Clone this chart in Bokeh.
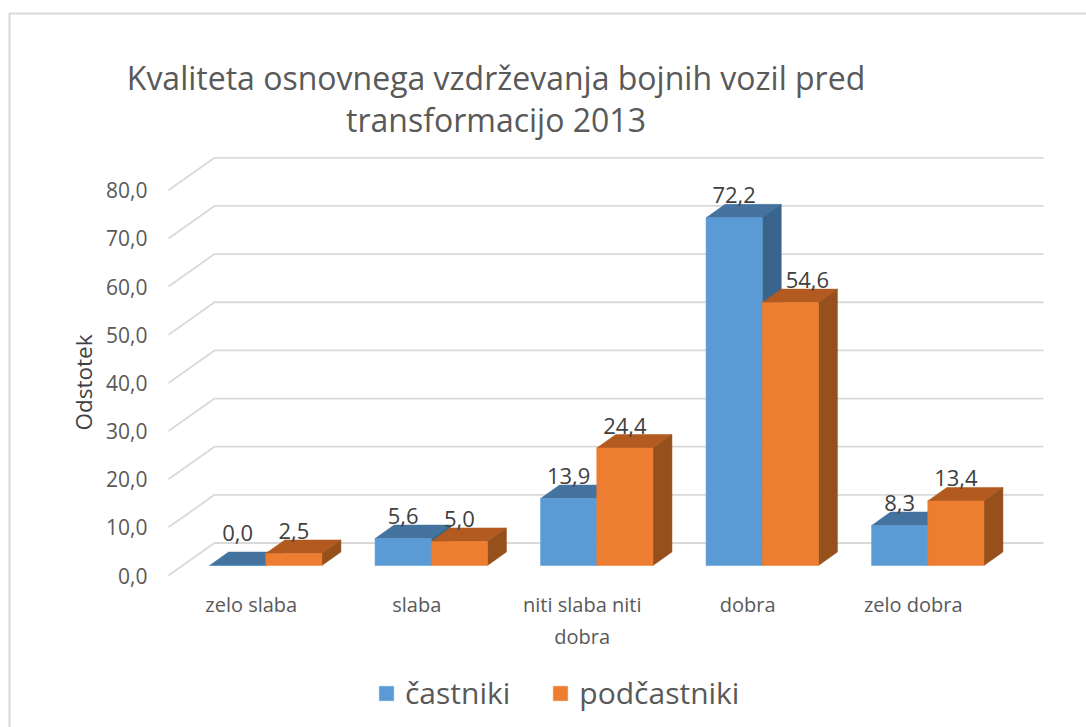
from bokeh.plotting import figure
from bokeh.models import Range1d, FixedTicker, Label, Legend, LegendItem, BoxAnnotation
from bokeh.core.properties import value
from bokeh.embed import file_html
from bokeh.resources import INLINE

# ---- data ----
title_lines = ["Kvaliteta osnovnega vzdrževanja bojnih vozil pred", "transformacijo 2013"]
categories = ["zelo slaba", "slaba", "niti slaba niti\ndobra", "dobra", "zelo dobra"]
castniki = [0.0, 5.6, 13.9, 72.2, 8.3]
podcastniki = [2.5, 5.0, 24.4, 54.6, 13.4]
y_ticks = [0, 10, 20, 30, 40, 50, 60, 70, 80]
y_labels = ["0,0", "10,0", "20,0", "30,0", "40,0", "50,0", "60,0", "70,0", "80,0"]
y_title = "Odstotek"
series_names = ["častniki", "podčastniki"]

# ---- layout (page pixels) ----
FONT = "Open Sans"
W, H = 1086, 727
FL, FR, FB = 168, 1043, 577               # floor left, wall right, axis line
Y0 = 575                                  # page y of value 0 on the front plane
PX_X = 165.5                              # px per category
PX_Y = 4.815                              # px per value unit


def px(x):
    return 0.5 + (x - FL) / PX_X


def py(y):
    return (Y0 - y) / PX_Y


def dx(d):
    return d / PX_X


def dy(d):
    return d / PX_Y


p = figure(width=W, height=H, output_backend="svg", toolbar_location=None,
           x_range=Range1d(px(0), px(W)), y_range=Range1d(py(H), py(0)),
           min_border=0, outline_line_color=None, background_fill_color="white",
           border_fill_color="white")
p.grid.visible = False

# axes
ya = p.yaxis[0]
ya.fixed_location = px(FL)
ya.ticker = FixedTicker(ticks=y_ticks)
ya.major_label_overrides = {t: l for t, l in zip(y_ticks, y_labels)}
ya.axis_line_color = None
ya.major_tick_line_color = None
ya.minor_tick_line_color = None
ya.major_label_standoff = 15
ya.major_label_text_font = FONT
ya.major_label_text_font_size = "21px"
ya.major_label_text_color = "#595959"

xa = p.xaxis[0]
xa.fixed_location = py(FB)
pos = list(range(1, len(categories) + 1))
xa.ticker = FixedTicker(ticks=pos)
xa.major_label_overrides = {t: c for t, c in zip(pos, categories)}
xa.axis_line_color = None
xa.major_tick_line_color = None
xa.minor_tick_line_color = None
xa.major_label_standoff = 7
xa.major_label_text_font = FONT
xa.major_label_text_font_size = "20px"
xa.major_label_text_color = "#595959"
xa.major_label_orientation = "horizontal"

# gridlines: slanted floor-side segment + back wall
WALL_X, WALL_Y = dx(46), dy(32.5)
x_start, x_end = 0.5, px(FR)
xs = [[x_start, x_start + WALL_X, x_end] for _ in y_ticks]
ys = [[t, t + WALL_Y, t + WALL_Y] for t in y_ticks]
p.multi_line(xs, ys, line_color="#d9d9d9", line_width=1.8)

# bars
LIFT_X, LIFT_Y = dx(14.5), dy(10)
BAR_W = 56.2 / PX_X
DEPTH_X, DEPTH_Y = dx(19), dy(13.5)
LABEL_UP = dy(9)

styles = [
    (castniki, -BAR_W, "#5b9bd5", "#44739f", "#39648c"),
    (podcastniki, 0.0, "#ed7d31", "#b25a20", "#96501b"),
]
legend_items = []
lab_x, lab_y, lab_t = [], [], []
for idx, (vals, off, front, top, side) in enumerate(styles):
    tx, ty, sx, sy, l, r, t, b = [], [], [], [], [], [], [], []
    for c, v in zip(pos, vals):
        x0 = c + LIFT_X + off
        x1 = x0 + BAR_W
        y0 = LIFT_Y
        y1 = v + LIFT_Y
        tx.append([x0, x1, x1 + DEPTH_X, x0 + DEPTH_X])
        ty.append([y1, y1, y1 + DEPTH_Y, y1 + DEPTH_Y])
        sx.append([x1, x1 + DEPTH_X, x1 + DEPTH_X, x1])
        sy.append([y0, y0 + DEPTH_Y, y1 + DEPTH_Y, y1])
        l.append(x0); r.append(x1); t.append(y1); b.append(y0)
        lab_cx = (x0 + x1) / 2
        lab_up = LABEL_UP
        if idx == 1 and v == max(vals):     # moved off the neighbouring bar's side
            lab_cx += dx(17)
        if v == 0:
            lab_up += dy(10)
        lab_x.append(lab_cx)
        lab_y.append(y1 + DEPTH_Y + lab_up)
        lab_t.append(f"{v:.1f}".replace(".", ","))
    p.patches(tx, ty, fill_color=top, line_color=top, line_width=0.5)
    p.patches(sx, sy, fill_color=side, line_color=side, line_width=0.5)
    rend = p.quad(left=l, right=r, top=t, bottom=b, fill_color=front, line_color=front, line_width=0.5)
    legend_items.append(LegendItem(label=series_names[idx], renderers=[rend]))

p.text(lab_x, lab_y, text=lab_t, text_align="center", text_baseline="alphabetic",
       text_font=value(FONT), text_font_size="22px", text_color="#404040")

# title and y axis title
for line, yc in zip(title_lines, [77, 119]):
    p.add_layout(Label(x=px(495.5), y=py(yc), text=line, text_align="center", text_baseline="middle",
                       text_font=FONT, text_font_size="32px", text_color="#595959"))
p.add_layout(Label(x=px(83), y=py(382), text=y_title, angle=90, angle_units="deg",
                   text_align="center", text_baseline="middle",
                   text_font=FONT, text_font_size="22.5px", text_color="#404040"))

# legend
legend = Legend(items=legend_items, orientation="horizontal", location=(377, 14),
                margin=0, padding=0, spacing=41, glyph_width=18, glyph_height=18,
                label_standoff=10, label_text_font=FONT, label_text_font_size="30px",
                label_text_color="#595959", border_line_color=None,
                background_fill_alpha=0, label_height=18)
p.add_layout(legend)

# chart area border (left and top edges reach the page edge)
p.add_layout(BoxAnnotation(left=px(8), right=px(10), bottom=py(H), top=py(13),
                           fill_color="#d9d9d9", fill_alpha=1, line_color=None))
p.add_layout(BoxAnnotation(left=px(8), right=px(W), bottom=py(14), top=py(12),
                           fill_color="#d9d9d9", fill_alpha=1, line_color=None))

open("out.html", "w").write(file_html(p, INLINE))
